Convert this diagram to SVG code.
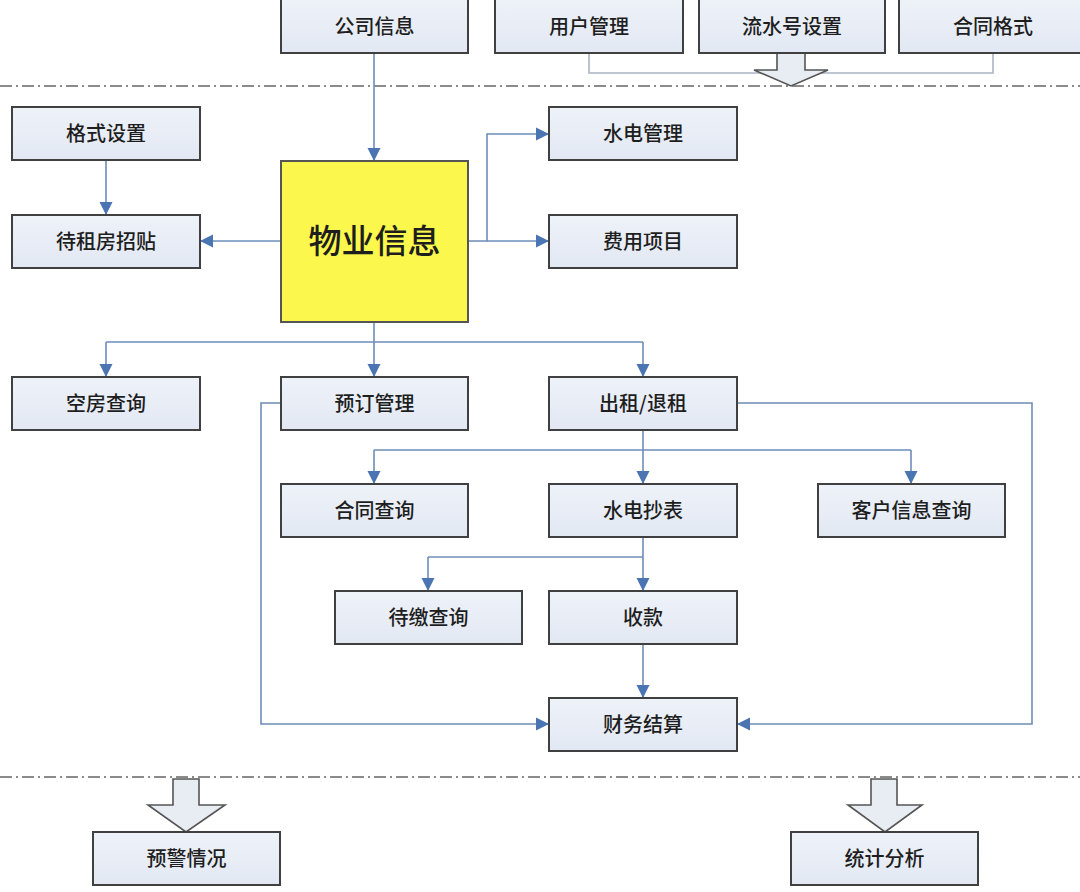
<svg xmlns="http://www.w3.org/2000/svg" width="1080" height="892" viewBox="0 0 1080 892">
<defs>
<linearGradient id="g" x1="0" y1="0" x2="0" y2="1">
<stop offset="0" stop-color="#eef2f9"/>
<stop offset="1" stop-color="#e2e8f3"/>
</linearGradient>
<marker id="ahb" viewBox="0 0 12 12" refX="12" refY="6" markerWidth="13" markerHeight="14" markerUnits="userSpaceOnUse" orient="auto">
<path d="M0,0 L12,6 L0,12 z" fill="#4a74b2"/>
</marker>
</defs>
<style>
.box{fill:url(#g);stroke:#404040;stroke-width:2}
.yel{fill:#fbf74c;stroke:#555;stroke-width:2}
.t{font-family:"Noto Sans CJK SC","Noto Sans",sans-serif;font-size:20px;font-weight:500;fill:#1e1e1e;text-anchor:middle;dominant-baseline:central}
.tb{font-family:"Noto Sans CJK SC","Noto Sans",sans-serif;font-size:33px;font-weight:500;fill:#1e1e1e;text-anchor:middle;dominant-baseline:central}
.c{fill:none;stroke:#6d8cb8;stroke-width:1.6}
.ca{fill:none;stroke:#6d8cb8;stroke-width:1.6;marker-end:url(#ahb)}
.g{fill:none;stroke:#a9b4c4;stroke-width:1.6}
.dash{stroke:#666;stroke-width:1.5;stroke-dasharray:12 4 2 4;fill:none}
.blk{fill:#e8ecf3;stroke:#555;stroke-width:1.6}
</style>
<rect width="1080" height="892" fill="#fff"/>
<line class="dash" x1="0" y1="86" x2="1080" y2="86"/>
<line class="dash" x1="0" y1="777" x2="1080" y2="777"/>
<g id="connectors">
<path class="g" d="M589,53 V73 H993 V53"/>
<path class="ca" d="M374,53 V161"/>
<path class="ca" d="M106,160 V215"/>
<path class="ca" d="M281,241 H200"/>
<path class="ca" d="M468,241 H487 V134 H549"/>
<path class="ca" d="M487,241 H549"/>
<path class="c" d="M106,342 H643"/>
<path class="ca" d="M374,322 V377"/>
<path class="ca" d="M106,342 V377"/>
<path class="ca" d="M643,342 V377"/>
<path class="c" d="M374,450 H911"/>
<path class="ca" d="M643,430 V484"/>
<path class="ca" d="M374,450 V484"/>
<path class="ca" d="M911,450 V484"/>
<path class="c" d="M428,557 H643"/>
<path class="ca" d="M643,537 V591"/>
<path class="ca" d="M428,557 V591"/>
<path class="ca" d="M643,644 V698"/>
<path class="ca" d="M281,403 H261 V724 H549"/>
<path class="ca" d="M737,403 H1032 V724 H737"/>
</g>
<path id="arrow-top" class="blk" d="M777,53 H805 V70 H828 L791,86 L754,70 H777 Z"/>
<path id="arrow-warn" class="blk" d="M173,779 H199 V805 H225 L186,832 L148,805 H173 Z"/>
<path id="arrow-stat" class="blk" d="M871,779 H897 V805 H922 L885,832 L848,805 H871 Z"/>
<g id="n-company"><rect class="box" x="281" y="-2" width="187" height="55"/><text class="t" x="374.5" y="25">公司信息</text></g>
<g id="n-user"><rect class="box" x="495" y="-2" width="188" height="55"/><text class="t" x="589" y="25">用户管理</text></g>
<g id="n-serial"><rect class="box" x="699" y="-2" width="186" height="55"/><text class="t" x="792" y="25">流水号设置</text></g>
<g id="n-contractfmt"><rect class="box" x="899" y="-2" width="190" height="55"/><text class="t" x="993" y="25">合同格式</text></g>
<g id="n-format"><rect class="box" x="12" y="107" width="188" height="53"/><text class="t" x="106" y="132">格式设置</text></g>
<g id="n-poster"><rect class="box" x="12" y="215" width="188" height="53"/><text class="t" x="106" y="240">待租房招贴</text></g>
<g id="n-property"><rect class="yel" x="281" y="161" width="187" height="161"/><text class="tb" x="374.5" y="239">物业信息</text></g>
<g id="n-utility"><rect class="box" x="549" y="107" width="188" height="53"/><text class="t" x="643" y="132">水电管理</text></g>
<g id="n-fee"><rect class="box" x="549" y="215" width="188" height="53"/><text class="t" x="643" y="240">费用项目</text></g>
<g id="n-vacant"><rect class="box" x="12" y="377" width="188" height="53"/><text class="t" x="106" y="402">空房查询</text></g>
<g id="n-booking"><rect class="box" x="281" y="377" width="187" height="53"/><text class="t" x="374.5" y="402">预订管理</text></g>
<g id="n-rent"><rect class="box" x="549" y="377" width="188" height="53"/><text class="t" x="643" y="402">出租/退租</text></g>
<g id="n-contractq"><rect class="box" x="281" y="484" width="187" height="53"/><text class="t" x="374.5" y="509">合同查询</text></g>
<g id="n-meter"><rect class="box" x="549" y="484" width="188" height="53"/><text class="t" x="643" y="509">水电抄表</text></g>
<g id="n-customer"><rect class="box" x="818" y="484" width="187" height="53"/><text class="t" x="911.5" y="509">客户信息查询</text></g>
<g id="n-pending"><rect class="box" x="335" y="591" width="187" height="53"/><text class="t" x="428.5" y="616">待缴查询</text></g>
<g id="n-collect"><rect class="box" x="549" y="591" width="188" height="53"/><text class="t" x="643" y="616">收款</text></g>
<g id="n-finance"><rect class="box" x="549" y="698" width="188" height="53"/><text class="t" x="643" y="723">财务结算</text></g>
<g id="n-warn"><rect class="box" x="93" y="832" width="187" height="53"/><text class="t" x="186.5" y="857">预警情况</text></g>
<g id="n-stat"><rect class="box" x="791" y="832" width="187" height="53"/><text class="t" x="884.5" y="857">统计分析</text></g>
</svg>
